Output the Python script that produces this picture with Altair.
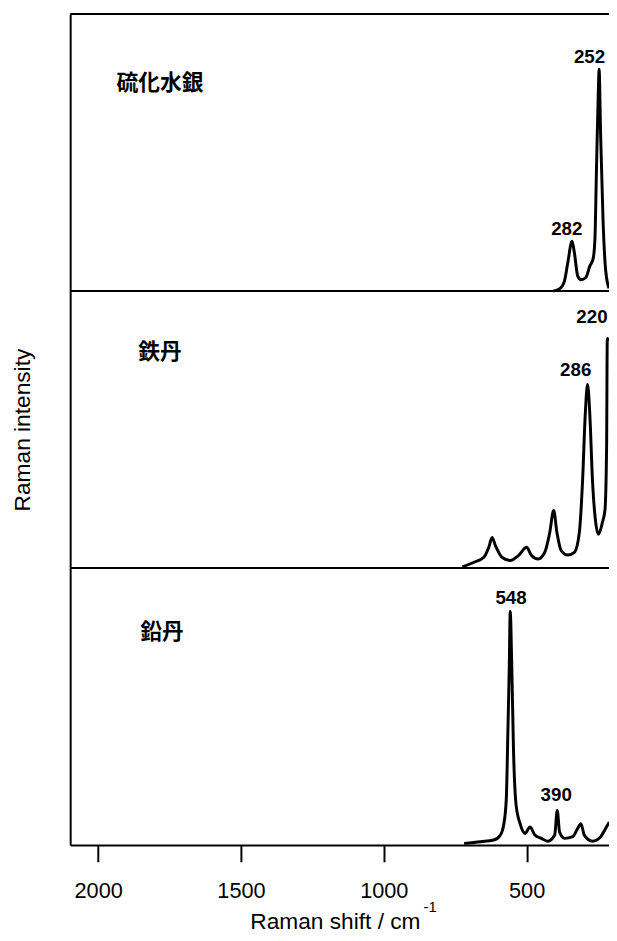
import altair as alt
import pandas as pd

# ---- data ----
sample_names = ["硫化水銀", "鉄丹", "鉛丹"]
sample_offsets = [2, 1, 0]

hgs_shift = [407.7, 382.5, 367.3, 355.9, 341.0, 332.7, 321.3, 309.9, 292.6, 278.8,
             267.1, 260.8, 255.6, 248.7, 246.3, 240.7, 232.4, 223.5, 211.7]
hgs_int = [0.000, 0.010, 0.037, 0.102, 0.180, 0.138, 0.055, 0.041, 0.049, 0.090,
           0.117, 0.190, 0.433, 0.733, 0.801, 0.554, 0.255, 0.077, 0.010]

fe_shift = [724.7, 684.3, 649.7, 632.4, 621.0, 609.2, 586.4, 557.4, 528.7, 500.0,
            482.7, 459.6, 436.4, 419.1, 405.3, 393.9, 379.0, 355.9, 332.7, 315.5,
            304.0, 294.7, 286.7, 278.8, 269.5, 258.1, 248.7, 234.9, 225.6, 220.0,
            217.6, 211.0]
fe_int = [0.004, 0.021, 0.039, 0.075, 0.110, 0.081, 0.039, 0.027, 0.045, 0.075,
          0.045, 0.033, 0.057, 0.128, 0.208, 0.128, 0.063, 0.047, 0.057, 0.128,
          0.318, 0.556, 0.663, 0.556, 0.318, 0.164, 0.122, 0.164, 0.211, 0.437,
          0.829, 0.820]

pb_shift = [718.8, 661.1, 615.1, 592.0, 580.6, 571.2, 565.7, 560.8, 557.4, 551.9,
            546.0, 536.7, 522.8, 505.5, 488.2, 471.0, 448.1, 425.0, 401.8, 392.8,
            384.6, 367.3, 338.6, 321.3, 309.9, 298.1, 269.5, 240.7, 223.5, 210.7]
pb_int = [0.006, 0.012, 0.018, 0.036, 0.071, 0.166, 0.404, 0.641, 0.843, 0.641,
          0.345, 0.143, 0.077, 0.042, 0.065, 0.036, 0.024, 0.014, 0.036, 0.125,
          0.047, 0.024, 0.030, 0.060, 0.077, 0.036, 0.014, 0.030, 0.060, 0.083]

peak_labels = ["252", "282", "286", "220", "548", "390"]
peak_label_shift = [279.8, 359.3, 328.2, 271.2, 554.6, 396.3]
peak_label_level = [2.825, 2.202, 1.692, 1.886, 0.869, 0.160]

name_shift = [1935.5, 1859.5, 1852.6]
name_level = [2.752, 1.781, 0.768]

x_ticks = [2000, 1500, 1000, 500]
panel_lines = [1, 2, 3]

# ---- build tables ----
rows = []
for name, off, xs, ys in zip(sample_names, sample_offsets,
                             [hgs_shift, fe_shift, pb_shift],
                             [hgs_int, fe_int, pb_int]):
    for i, (sx, sy) in enumerate(zip(xs, ys)):
        rows.append({"sample": name, "order": i, "shift": sx, "level": sy + off})
spec = pd.DataFrame(rows)
peaks = pd.DataFrame({"label": peak_labels, "shift": peak_label_shift, "level": peak_label_level})
names = pd.DataFrame({"label": sample_names, "shift": name_shift, "level": name_level})
lines = pd.DataFrame({"level": panel_lines})
sup = pd.DataFrame({"t": ["-1"]})

W, H = 546, 842
xscale = alt.Scale(domain=[2098, 211.6], nice=False, zero=False)
yscale = alt.Scale(domain=[0, 3], nice=False, zero=False)

xaxis = alt.Axis(values=x_ticks, format="d", grid=False, tickSize=17, tickWidth=2,
                 tickColor="black", domainWidth=2, domainColor="black", labelFontSize=22,
                 labelFont="Liberation Sans", labelColor="black", labelPadding=19,
                 labelFlush=False,
                 title="Raman shift / cm", titleFontSize=23, titleFont="Liberation Sans",
                 titleFontWeight="normal", titleColor="black", titleAlign="left",
                 titleX=182, titleY=85, titleBaseline="alphabetic", titleAnchor="start")
yaxis = alt.Axis(ticks=False, labels=False, grid=False, domainWidth=2, domainColor="black",
                 title="Raman intensity", titleFontSize=23, titleFont="Liberation Sans",
                 titleFontWeight="normal", titleColor="black", titleX=-48, titleY=421,
                 titleBaseline="middle", titleAlign="center", titleAngle=270)

spectra = alt.Chart(spec).mark_line(color="black", strokeWidth=3, interpolate="monotone",
                                    clip=True).encode(
    x=alt.X("shift:Q", scale=xscale, axis=xaxis),
    y=alt.Y("level:Q", scale=yscale, axis=yaxis),
    detail="sample:N",
    order="order:Q",
)

rules = alt.Chart(lines).mark_rule(color="black", strokeWidth=2).encode(
    y=alt.Y("level:Q", scale=yscale)
)

peak_text = alt.Chart(peaks).mark_text(font="Liberation Sans", fontSize=19, fontWeight="bold",
                                       color="black", align="center",
                                       baseline="alphabetic").encode(
    x=alt.X("shift:Q", scale=xscale), y=alt.Y("level:Q", scale=yscale), text="label:N"
)

name_text = alt.Chart(names).mark_text(font="Noto Sans CJK JP", fontSize=22, fontWeight="bold",
                                       color="black", align="left", baseline="middle").encode(
    x=alt.X("shift:Q", scale=xscale), y=alt.Y("level:Q", scale=yscale), text="label:N"
)

sup_text = alt.Chart(sup).mark_text(font="Liberation Sans", fontSize=15, color="black",
                                    align="left", baseline="alphabetic").encode(
    x=alt.value(358), y=alt.value(910), text="t:N"
)

chart = alt.layer(spectra, rules, peak_text, name_text, sup_text).properties(
    width=W, height=H,
    autosize=alt.AutoSizeParams(type="none"),
    padding={"left": 63, "top": 0, "right": 0, "bottom": 87},
).configure_view(stroke=None).configure(background="white")

chart.save("out.html", embed_options={"renderer": "svg", "actions": False})
